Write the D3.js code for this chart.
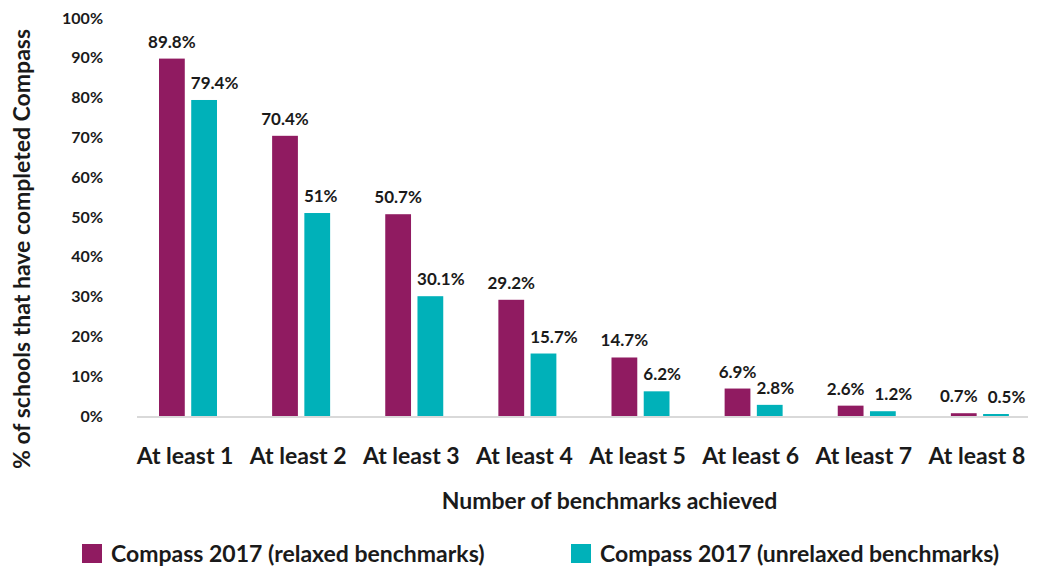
<!DOCTYPE html>
<html><head><meta charset="utf-8">
<script src="https://cdn.jsdelivr.net/npm/d3@7"></script>
<style>
html,body{margin:0;padding:0;background:#fff;}
text{font-family:Lato,"Open Sans",sans-serif;font-weight:bold;fill:#1a1a1a;}
</style></head>
<body>
<svg id="chart" width="1042" height="567"></svg>
<script>
const categories = ["At least 1","At least 2","At least 3","At least 4","At least 5","At least 6","At least 7","At least 8"];
const seriesNames = ["Compass 2017 (relaxed benchmarks)","Compass 2017 (unrelaxed benchmarks)"];
const relaxed = [89.8, 70.4, 50.7, 29.2, 14.7, 6.9, 2.6, 0.7];
const unrelaxed = [79.4, 51, 30.1, 15.7, 6.2, 2.8, 1.2, 0.5];
const valueLabels = [
  ["89.8%","70.4%","50.7%","29.2%","14.7%","6.9%","2.6%","0.7%"],
  ["79.4%","51%","30.1%","15.7%","6.2%","2.8%","1.2%","0.5%"]
];
const yTicks = [0,10,20,30,40,50,60,70,80,90,100];
const colors = ["#901b61","#00b1b9"];

const svg = d3.select("#chart");
const x0 = d3.scaleBand().domain(categories).range([131.5, 1036.5]).padding(0);
const x1 = d3.scaleBand().domain([0,1]).range([27.5, 85.5]).paddingInner(0.2);
const y = d3.scaleLinear().domain([0,100]).range([416, 18]);

// y tick labels
svg.append("g").selectAll("text").data(yTicks).join("text")
  .attr("x", 103).attr("y", d => y(d)).attr("dy","0.35em")
  .attr("text-anchor","end").style("font-size","16px")
  .text(d => d + "%");

// bars
const series = [relaxed, unrelaxed];
const labelSel = [];
series.forEach((vals, si) => {
  const g = svg.append("g");
  g.selectAll("rect").data(vals).join("rect")
    .attr("x", (d,i) => x0(categories[i]) + x1(si))
    .attr("width", x1.bandwidth())
    .attr("y", d => y(d))
    .attr("height", d => y(0) - y(d))
    .attr("fill", colors[si]);
  labelSel.push(g.selectAll("text").data(vals).join("text")
    .attr("x", (d,i) => x0(categories[i]) + x1(si) + x1.bandwidth()/2)
    .attr("y", d => y(d) - 11)
    .attr("text-anchor","middle").style("font-size","17px")
    .text((d,i) => valueLabels[si][i]));
});
// keep second-series labels clear of the first bar, then nudge apart colliding labels
const nodesA = labelSel[0].nodes(), nodesB = labelSel[1].nodes();
categories.forEach((c, i) => {
  const a = nodesA[i], b = nodesB[i];
  const wa = a.getComputedTextLength(), wb = b.getComputedTextLength();
  let xa = +a.getAttribute("x"), xb = +b.getAttribute("x");
  const barARight = x0(c) + x1(0) + x1.bandwidth();
  if (xb - wb/2 < barARight + 6) xb = barARight + 6 + wb/2;
  const ya = +a.getAttribute("y"), yb = +b.getAttribute("y");
  if (Math.abs(ya - yb) < 14) {
    const gap = (xb - wb/2) - (xa + wa/2);
    const need = 10 - gap;
    if (need > 0) { xa -= need/2; xb += need/2; }
  }
  a.setAttribute("x", xa);
  b.setAttribute("x", xb);
});

// baseline
svg.append("line").attr("x1",137).attr("x2",1028).attr("y1",y(0)+1).attr("y2",y(0)+1)
  .attr("stroke","#d9d9d9").attr("stroke-width",2);

// category labels
svg.append("g").selectAll("text").data(categories).join("text")
  .attr("x", d => x0(d) + x0.bandwidth()/2 - 3).attr("y", 464)
  .attr("text-anchor","middle").style("font-size","23px")
  .text(d => d);

// x title
svg.append("text").attr("x", 609.5).attr("y", 509).attr("text-anchor","middle")
  .style("font-size","23px").text("Number of benchmarks achieved");

// y title
svg.append("text").attr("transform","translate(30,249) rotate(-90)")
  .attr("text-anchor","middle").style("font-size","23px")
  .text("% of schools that have completed Compass");

// legend
const legX = [82, 571];
seriesNames.forEach((n, i) => {
  svg.append("rect").attr("x", legX[i]).attr("y", 544).attr("width", 20).attr("height", 19).attr("fill", colors[i]);
  svg.append("text").attr("x", legX[i] + 29).attr("y", 562).style("font-size","23px").text(n);
});
</script>
</body></html>
